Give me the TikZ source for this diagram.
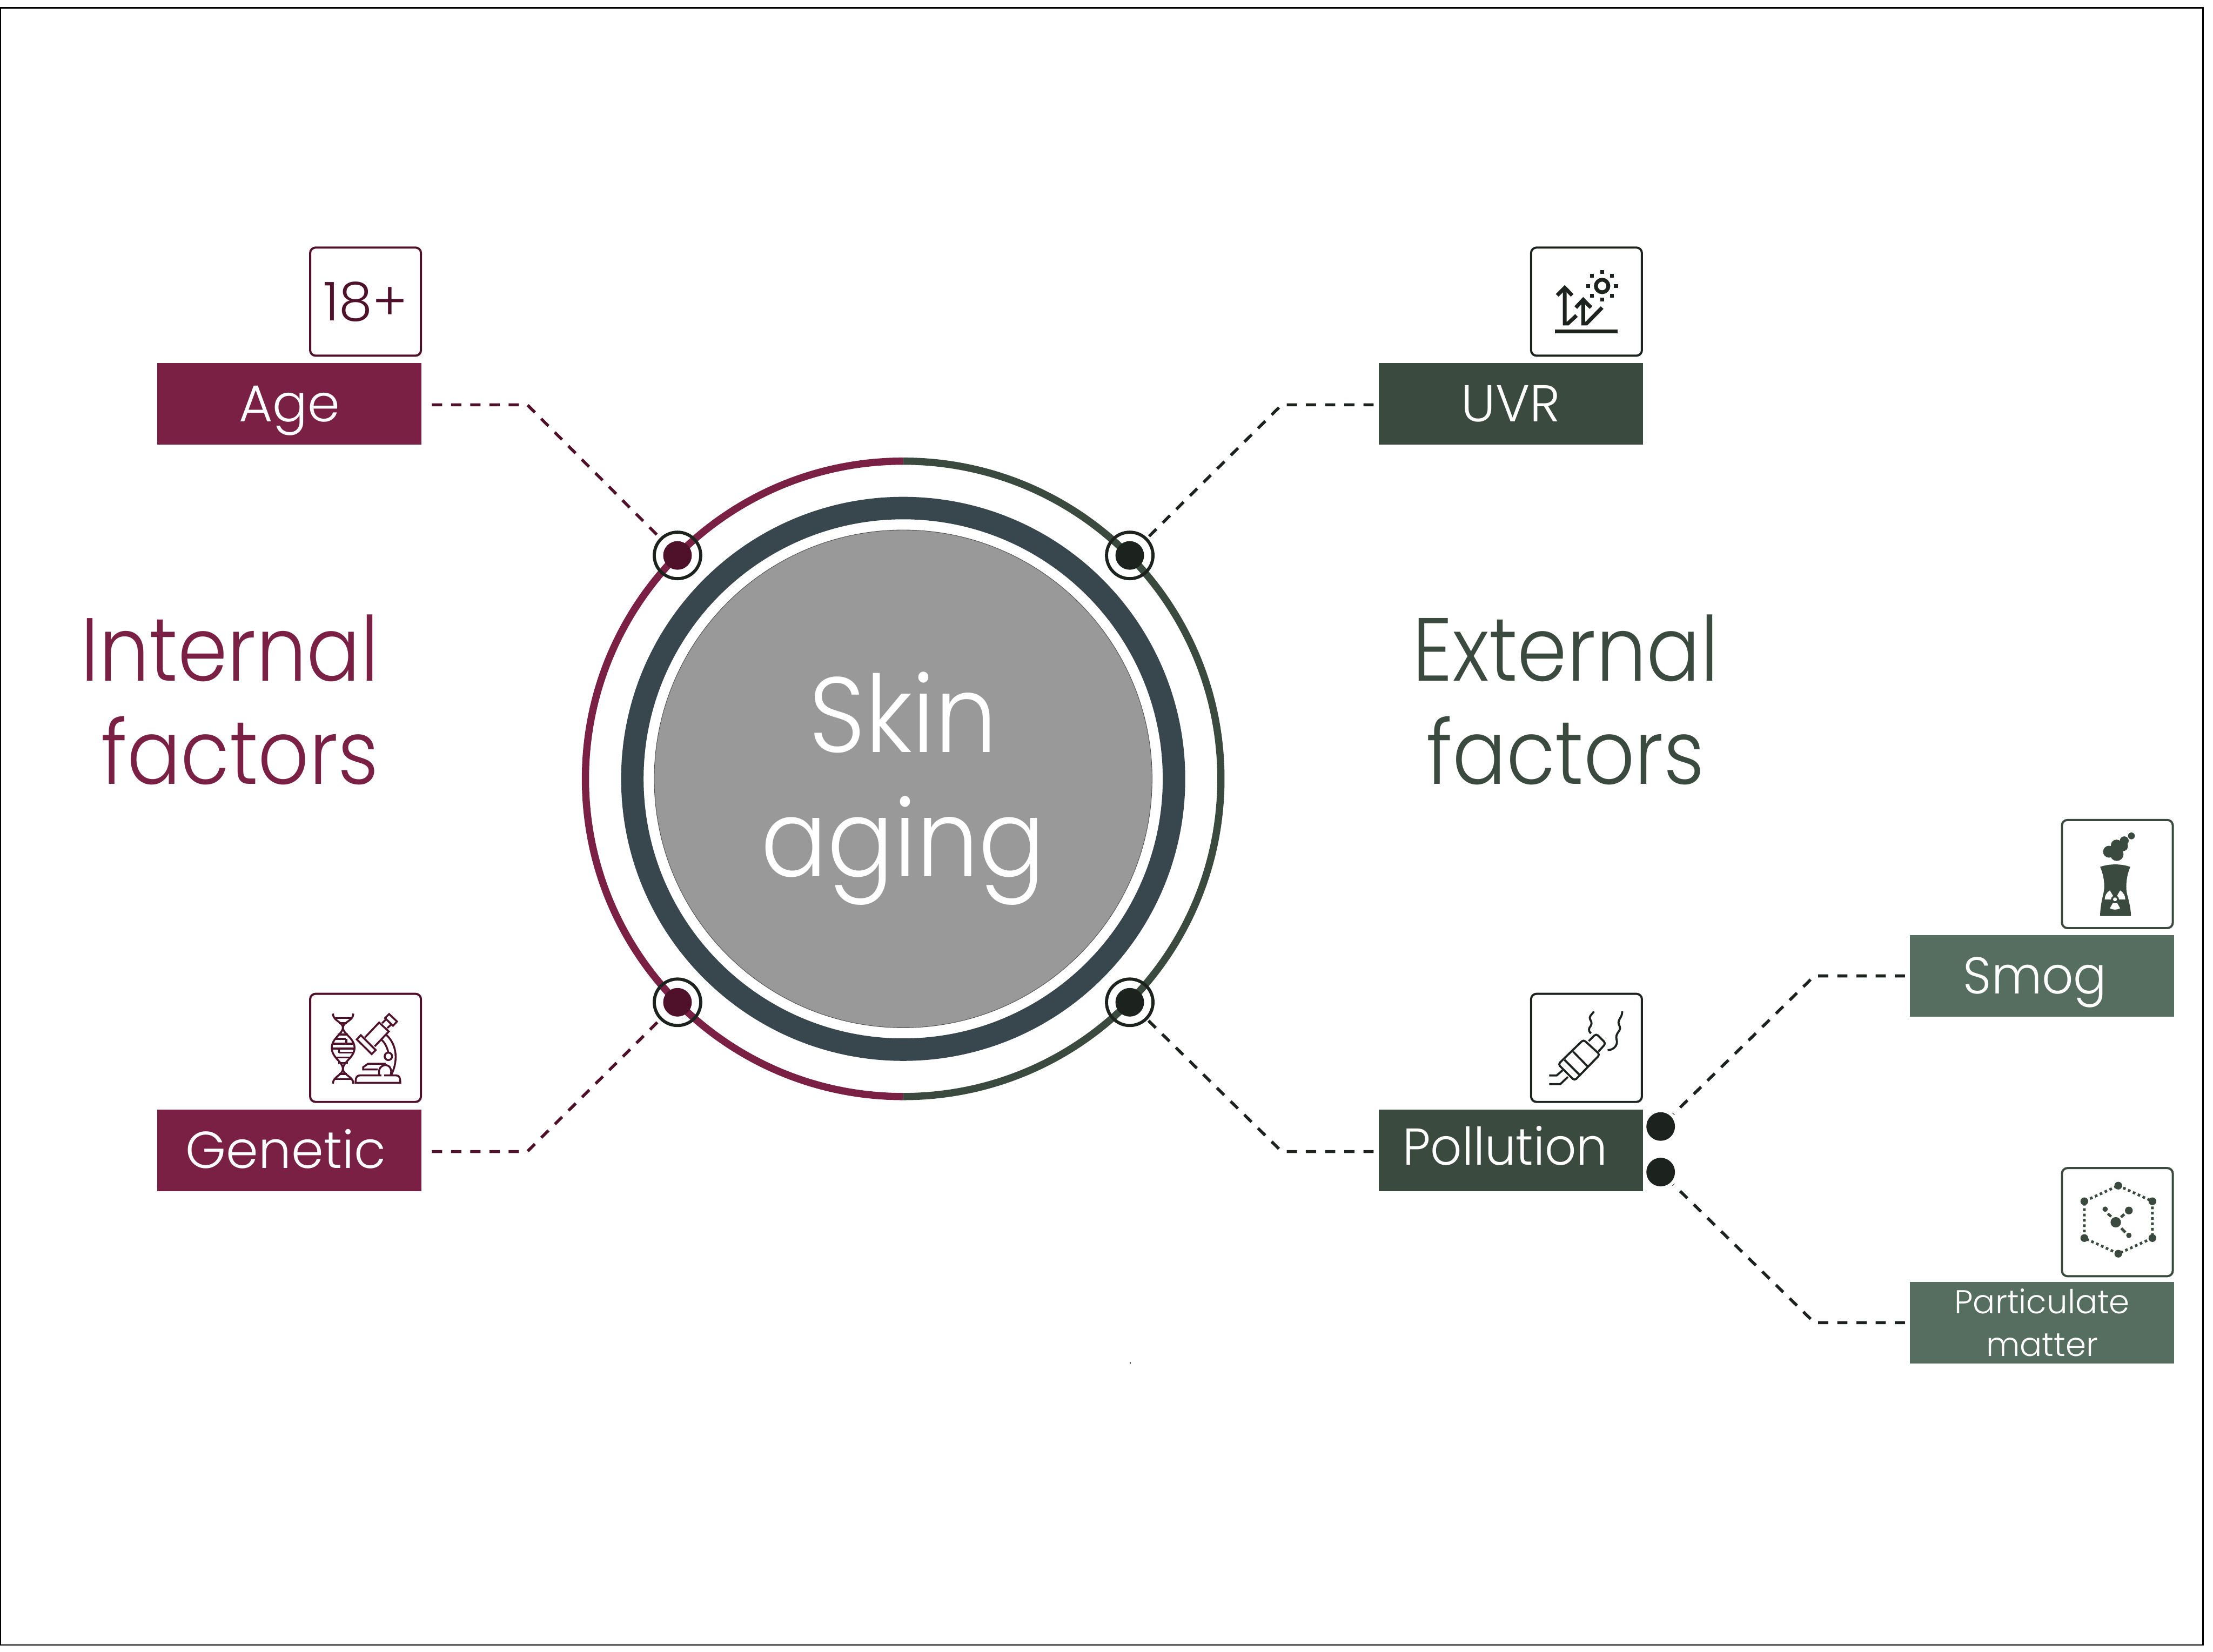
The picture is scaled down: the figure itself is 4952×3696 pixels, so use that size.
\documentclass[tikz,border=0pt]{standalone}
\usepackage{fontspec}
\setmainfont{Poppins Light}
\newfontfamily\narrowfont{Poppins Light}[FakeStretch=0.89]
\newfontfamily\hubfont{Poppins Light}[FakeStretch=0.92]
\newfontfamily\tagfont{Poppins Light}[FakeStretch=0.95]
\usetikzlibrary{positioning}
\definecolor{wine}{HTML}{7A2044}
\definecolor{winedark}{HTML}{4F1029}
\definecolor{fir}{HTML}{3A4A3F}
\definecolor{firdark}{HTML}{1C221E}
\definecolor{moss}{HTML}{566E60}
\definecolor{slate}{HTML}{37474D}
\tikzset{
  tagbox/.style={rectangle, minimum width=591*0.01cm, minimum height=183*0.01cm, inner sep=0pt, text=white, text height=23pt, text depth=0pt, font=\fontsize{33}{36}\selectfont},
  iconbox/.style={rectangle, rounded corners=3.5pt, draw=#1, line width=1.35pt, fill=white, minimum width=248*0.01cm, minimum height=242*0.01cm, inner sep=0pt},
  hubdot/.style={circle, fill=#1, minimum size=64*0.01cm, inner sep=0pt},
  hubring/.style={circle, draw=firdark, line width=2pt, minimum size=104*0.01cm, inner sep=0pt},
  link/.style={draw=#1, line width=1.9pt, dash pattern=on 6.5pt off 5.7pt},
  headline/.style={font=\narrowfont\fontsize{57}{65.6}\selectfont},
  zoomed/.style={x=0.01cm/3, y=-0.01cm/3},
}
\begin{document}
\begin{tikzpicture}[x=0.01cm, y=-0.01cm]
  \useasboundingbox (0,0) rectangle (4952,3696);
  \fill[white] (0,0) rectangle (4952,3696);
  \draw[line width=0.85pt, black] (1.5,17.5) rectangle (4929.5,3681.5);
  \fill[black] (2527.5,3048.5) rectangle (2530.5,3051.5);

  % Rings
  \draw[wine, line width=4.6pt] (2021,1032) arc[start angle=-90, end angle=-270, radius=711];
  \draw[fir, line width=4.6pt] (2021,1032) arc[start angle=-90, end angle=90, radius=711];
  \draw[slate, line width=14.3pt] (2021,1743) circle[radius=606];
  \node[circle, draw=black!70, line width=0.3pt, fill=black!40, minimum size=1114*0.01cm, inner sep=0pt] (hub) at (2021,1743) {};
  \node[text=white, align=center, font=\hubfont\fontsize{68}{79}\selectfont] (hublabel) at (2021,1765) {Skin\\aging};

  % Hub markers
  \foreach \n/\x/\y/\c in {age/1516/1243/winedark, gene/1516/2243/winedark, uvr/2528/1243/firdark, poll/2528/2243/firdark} {
    \node[hubdot=\c] (\n dot) at (\x,\y) {};
    \node[hubring] (\n ring) at (\x,\y) {};
  }

  % Headings
  \node[headline, text=wine, align=right, anchor=east] (internal) at (860,1566) {Internal\\factors};
  \node[headline, text=fir, align=center] (external) at (3503,1566) {External\\factors};

  % Tags
  \node[tagbox, fill=wine] (age) at (647.5,903.5) {Age};
  \node[tagbox, fill=wine] (gene) at (647.5,2574.5) {Genetic\hspace*{4.5pt}};
  \node[tagbox, fill=fir] (uvr) at (3380.5,903.5) {UVR};
  \node[tagbox, fill=fir, text height=18.5pt, font=\tagfont\fontsize{33}{36}\selectfont] (poll) at (3380.5,2574.5) {Pollution\hspace*{7pt}};
  \node[tagbox, fill=moss, font=\tagfont\fontsize{33}{36}\selectfont] (smog) at (4569.5,2184) {Smog\hspace*{9pt}};
  \node[tagbox, fill=moss, align=center, text height=, text depth=, font=\fontsize{21}{27}\selectfont] (pm) at (4569.5,2960) {Particulate\\matter};

  % Icon boxes
  \node[iconbox=winedark, text=winedark, font=\fontsize{34}{36}\selectfont] (ageicon) at (818,675) {18+};
  \node[iconbox=winedark] (geneicon) at (818,2345) {};
  \node[iconbox=firdark] (uvricon) at (3550,675) {};
  \node[iconbox=firdark] (pollicon) at (3550,2345) {};
  \node[iconbox=fir] (smogicon) at (4738,1956) {};
  \node[iconbox=fir] (pmicon) at (4738,2735) {};

  % Pollution branch dots
  \node[hubdot=firdark] (smogdot) at (3716,2521) {};
  \node[hubdot=firdark] (pmdot) at (3716,2623) {};

  % Connectors
  \coordinate (agecorner) at (1180,906);
  \coordinate (genecorner) at (1180,2577);
  \coordinate (uvrcorner) at (2868,906);
  \coordinate (pollcorner) at (2868,2577);
  \coordinate (smogcorner) at (4060,2184);
  \coordinate (pmcorner) at (4060,2960);
  \draw[link=winedark, shorten <=6.5pt] (age.east |- agecorner) -- (agecorner) -- (agering);
  \draw[link=winedark, shorten <=6.5pt] (gene.east |- genecorner) -- (genecorner) -- (genering);
  \draw[link=firdark, shorten <=3pt] (uvr.west |- uvrcorner) -- (uvrcorner) -- (uvrring);
  \draw[link=firdark, shorten <=3pt] (poll.west |- pollcorner) -- (pollcorner) -- (pollring);
  \draw[link=firdark, shorten <=3pt, shorten >=2pt] (smog.west) -- (smogcorner) -- (smogdot);
  \draw[link=firdark, shorten <=3pt, shorten >=2pt] (pm.west) -- (pmcorner) -- (pmdot);

  % UVR icon
  \begin{scope}[shift={(3380,520)}, zoomed, firdark]
    \fill (298,652) rectangle (720,677);
    \begin{scope}[line width=2.4pt]
      \draw (313,423) -- (364,372) -- (414,423);
      \draw (443,558) -- (385,612) -- (364,612) -- (364,372);
      \draw (438,505) -- (488,452) -- (540,505);
      \draw (615,505) -- (510,612) -- (488,612) -- (488,452);
      \draw (615,360) circle[radius=42];
    \end{scope}
    \foreach \x/\y in {615/267,548/293,681/293,522/360,708/360,548/426,681/426,615/452}
      \fill (\x-13,\y-13) rectangle (\x+13,\y+13);
  \end{scope}

  % DNA and microscope icon
  \begin{scope}[shift={(650,2190)}, zoomed, winedark, line width=1.2pt]
    \draw (285,235) .. controls (285,285) and (352,290) .. (352,330) .. controls (352,370) and (277,400) .. (277,465) .. controls (277,530) and (352,560) .. (352,605) .. controls (352,650) and (285,655) .. (285,705);
    \draw (422,235) .. controls (422,285) and (352,290) .. (352,330) .. controls (352,370) and (430,400) .. (430,465) .. controls (430,530) and (352,560) .. (352,605) .. controls (352,650) and (422,655) .. (422,705);
    \foreach \y/\a/\b in {265/295/410, 300/325/380, 375/315/385, 405/300/372, 437/285/420, 470/280/425, 497/325/420, 530/298/405, 565/322/385, 640/325/380, 675/295/410}
      \draw (\a,\y) -- (\b,\y);
    \draw (375,405) -- (375,437) (325,470) -- (325,497);
    \draw (500,395) -- (595,295) -- (660,355) -- (565,455);
    \draw (445,408) -- (472,380) -- (572,480) -- (545,507) -- cycle;
    \draw (615,300) -- (640,275) (650,332) -- (680,305);
    \draw (635,265) -- (662,238) -- (715,288) -- (688,317) -- cycle;
    \draw (640,375) .. controls (700,425) and (735,530) .. (675,650);
    \draw (610,410) .. controls (635,430) and (650,465) .. (657,497);
    \draw (657,522) circle[radius=25];
    \draw (640,572) -- (520,572) -- (488,595) -- (488,610) -- (585,610);
    \draw (595,650) -- (595,615) .. controls (600,590) and (625,580) .. (640,580) .. controls (665,582) and (685,610) .. (672,650);
    \draw (610,650) -- (465,650) .. controls (445,650) and (437,665) .. (437,700) -- (737,700) .. controls (737,665) and (730,650) .. (710,650) -- (628,650);
  \end{scope}

  % Plug icon
  \begin{scope}[shift={(3380,2190)}, zoomed, firdark, line width=1.3pt]
    \draw[rounded corners=1.6pt] (320,575) -- (490,410) -- (600,510) -- (430,685) -- cycle;
    \draw[rounded corners=1.6pt] (525,420) -- (575,370) -- (640,435) -- (590,490);
    \draw (420,490) -- (518,590) (362,545) -- (462,645);
    \draw (260,650) -- (310,650) -- (350,615);
    \draw (260,708) -- (335,708) -- (385,660);
    \draw (560,220) .. controls (545,245) and (525,250) .. (535,275) .. controls (550,300) and (545,310) .. (530,330) .. controls (522,345) and (530,360) .. (540,368);
    \draw (750,220) .. controls (750,260) and (725,270) .. (725,295) .. controls (725,320) and (745,320) .. (730,350) .. controls (715,370) and (705,385) .. (712,410) .. controls (725,445) and (690,482) .. (652,480);
  \end{scope}

  % Cooling tower icon
  \begin{scope}[shift={(4580,1810)}, zoomed, fir]
    \fill (358,390) .. controls (420,368) and (500,368) .. (560,390) .. controls (535,450) and (528,520) .. (538,570) .. controls (555,630) and (565,680) .. (565,720) -- (358,720) .. controls (358,680) and (365,630) .. (380,570) .. controls (392,520) and (385,450) .. (358,390) -- cycle;
    \foreach \r/\x/\y in {40/418/288, 45/470/305, 38/468/245, 35/510/250, 30/520/215, 23/568/182}
      \fill (\x,\y) circle[radius=\r];
    \fill[white] (458,608) circle[radius=13];
    \foreach \a in {90,210,330}
      \fill[white] (458,608) ++(\a-30:27) arc[start angle=\a-30, end angle=\a+30, radius=27] -- ++(\a+30:42) arc[start angle=\a+30, end angle=\a-30, radius=69] -- cycle;
  \end{scope}

  % Particle icon
  \begin{scope}[shift={(4580,2590)}, zoomed, fir]
    \draw[line width=1.7pt, dash pattern=on 1.7pt off 1.7pt] (480,190) -- (709,295) -- (709,542) -- (480,647) -- (252,542) -- (252,295) -- cycle;
    \foreach \x/\y in {480/190,709/295,709/542,480/647,252/542,252/295}
      \fill (\x,\y) circle[radius=26];
    \fill (463,436) circle[radius=35];
    \fill (392,348) circle[radius=18];
    \fill (551,357) circle[radius=26];
    \fill (551,524) circle[radius=18];
    \draw[line width=1.7pt] (410,378) -- (432,398) (498,402) -- (520,382) (500,476) -- (528,504);
  \end{scope}
\end{tikzpicture}
\end{document}
